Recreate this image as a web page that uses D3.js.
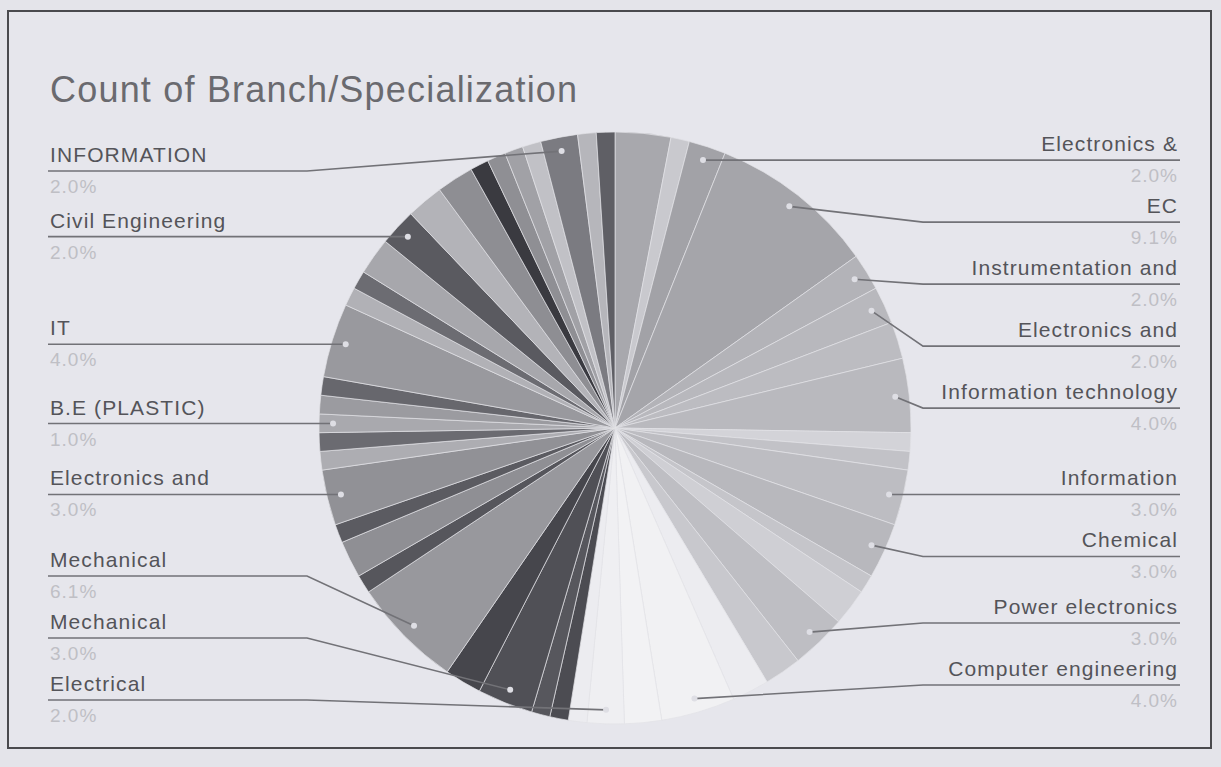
<!DOCTYPE html>
<html>
<head>
<meta charset="utf-8">
<script src="https://cdn.jsdelivr.net/npm/d3@7/dist/d3.min.js"></script>
<style>
body { margin: 0; background: #e4e4ea; }
text { font-family: "Liberation Sans", Arial, sans-serif; }
</style>
</head>
<body>
<script>
// slices, clockwise from 12 o'clock (99 responses in total)
var branches = [
    "Other 1", "Other 2", "Electronics &", "EC", "Instrumentation and", "Electronics and",
    "Other 3", "Information technology", "Other 4", "Other 5", "Information", "Chemical",
    "Other 6", "Other 7", "Power electronics", "Other 8", "Other 9", "Computer engineering",
    "Other 10", "Electrical", "Other 11", "Other 12", "Other 13", "Mechanical",
    "Other 14", "Mechanical", "Other 15", "Other 16", "Other 17", "Electronics and",
    "Other 18", "Other 19", "B.E (PLASTIC)", "Other 20", "Other 21", "IT",
    "Other 22", "Other 23", "Other 24", "Civil Engineering", "Other 25", "Other 26",
    "Other 27", "Other 28", "Other 29", "Other 30", "INFORMATION", "Other 31", "Other 32"
]
var counts = [
    3, 1, 2, 9, 2, 2,
    2, 4, 1, 1, 3, 3,
    1, 2, 3, 2, 2, 4,
    2, 2, 1, 1, 1, 3,
    2, 6, 1, 2, 1, 3,
    1, 1, 1, 1, 1, 4,
    1, 1, 2, 2, 2, 2,
    1, 1, 1, 1, 2, 1, 1
]
// 1 = the chart shows a label for this slice
var labelled = [
    0, 0, 1, 1, 1, 1,
    0, 1, 0, 0, 1, 1,
    0, 0, 1, 0, 0, 1,
    0, 1, 0, 0, 0, 1,
    0, 1, 0, 0, 0, 1,
    0, 0, 1, 0, 0, 1,
    0, 0, 0, 1, 0, 0,
    0, 0, 0, 0, 1, 0, 0
]
// grey shades as they came out on the printout
var shades = [
    "#a8a8ad", "#c9c9ce", "#a2a2a7", "#a5a5aa", "#b3b3b8", "#b8b8bd",
    "#bcbcc1", "#b9b9be", "#d3d3d8", "#c2c2c7", "#bdbdc2", "#b8b8bd",
    "#c5c5ca", "#cfcfd4", "#bebec3", "#c8c8cd", "#ececf0", "#f1f1f3",
    "#f2f2f4", "#efeff2", "#ececf0", "#4c4c52", "#57575d", "#505056",
    "#46464c", "#98989d", "#56565c", "#8f8f94", "#5b5b61", "#919196",
    "#adadb2", "#6b6b71", "#a9a9ae", "#9b9ba0", "#67676d", "#99999e",
    "#b1b1b6", "#6c6c72", "#a7a7ac", "#5a5a60", "#b3b3b8", "#8e8e93",
    "#3a3a40", "#8f8f94", "#a1a1a6", "#c1c1c6", "#7b7b81", "#b6b6bb", "#5f5f65"
]

var width = 1221
var height = 767
var cx = 615, cy = 428, r = 296

var svg = d3.select("body").append("svg").attr("width", width).attr("height", height)
svg.append("rect").attr("width", width).attr("height", height).attr("fill", "#e4e4ea")
svg.append("rect").attr("x", 8).attr("y", 11).attr("width", 1203).attr("height", 737)
    .attr("fill", "#e6e6ec").attr("stroke", "#4a4a4e").attr("stroke-width", 2)

// title
svg.append("text").attr("x", 50).attr("y", 102).attr("font-size", 36).attr("letter-spacing", 1.2)
    .attr("fill", "#6a6a6f").text("Count of Branch/Specialization")

// data for pie
var data = branches.map(function(b, i) {
    return {name: b, count: counts[i], shown: labelled[i] == 1, idx: i}
})
var total = d3.sum(counts)
var pct = d3.format(".1%")
var colour = d3.scaleOrdinal().domain(d3.range(data.length)).range(shades)

var pie = d3.pie().sort(null).value(function(d) { return d.count })
var arcs = pie(data)
var arc = d3.arc().innerRadius(0).outerRadius(r)
var dotArc = d3.arc().innerRadius(r - 14).outerRadius(r - 14)

var main = svg.append("g").attr("transform", "translate(" + cx + "," + cy + ")")
main.selectAll("path.slice").data(arcs).enter().append("path")
    .attr("class", "slice")
    .attr("d", arc)
    .attr("fill", function(d) { return colour(d.data.idx) })
    .attr("stroke", "#e2e2e7").attr("stroke-width", 0.7)

// labels, split by side of the pie
var labels = arcs.filter(function(d) { return d.data.shown }).map(function(d) {
    var c = dotArc.centroid(d)
    var mid = (d.startAngle + d.endAngle) / 2
    return {d: d, dx: cx + c[0], dy: cy + c[1], right: mid < Math.PI}
})

// push labels apart, keeping them in the frame
function place(list, top, bottom, gap)
{
    list.sort(function(a, b) { return a.dy - b.dy })
    for(var i = 0; i < list.length; i++)
    {
        var y = Math.max(top, Math.min(bottom, list[i].dy))
        if(i > 0) y = Math.max(y, list[i - 1].y + gap)
        list[i].y = y
    }
    for(var i = list.length - 1; i >= 0; i--)
    {
        if(i == list.length - 1) list[i].y = Math.min(list[i].y, bottom)
        else list[i].y = Math.min(list[i].y, list[i + 1].y - gap)
    }
}
var leftLabels = labels.filter(function(l) { return !l.right })
var rightLabels = labels.filter(function(l) { return l.right })
place(leftLabels, 171, 700, 62)
place(rightLabels, 157, 685, 62)

var g = svg.append("g")
labels.forEach(function(l) {
    var x0 = l.right ? 1180 : 48
    var elbow = l.right ? cx + r + 12 : cx - r - 12
    g.append("path")
        .attr("d", "M" + x0 + "," + l.y + "H" + elbow + "L" + l.dx + "," + l.dy)
        .attr("fill", "none").attr("stroke", "#727277").attr("stroke-width", 1.6)
    g.append("circle").attr("cx", l.dx).attr("cy", l.dy).attr("r", 3).attr("fill", "#dedee4")
    var tx = l.right ? 1178 : 50
    var anchor = l.right ? "end" : "start"
    g.append("text").attr("x", tx).attr("y", l.y - 9).attr("text-anchor", anchor)
        .attr("font-size", 21).attr("letter-spacing", 1.1).attr("fill", "#545459")
        .text(l.d.data.name)
    g.append("text").attr("x", tx).attr("y", l.y + 22).attr("text-anchor", anchor)
        .attr("font-size", 19).attr("letter-spacing", 1).attr("fill", "#bfbfc5")
        .text(pct(l.d.data.count / total))
})
</script>
</body>
</html>
